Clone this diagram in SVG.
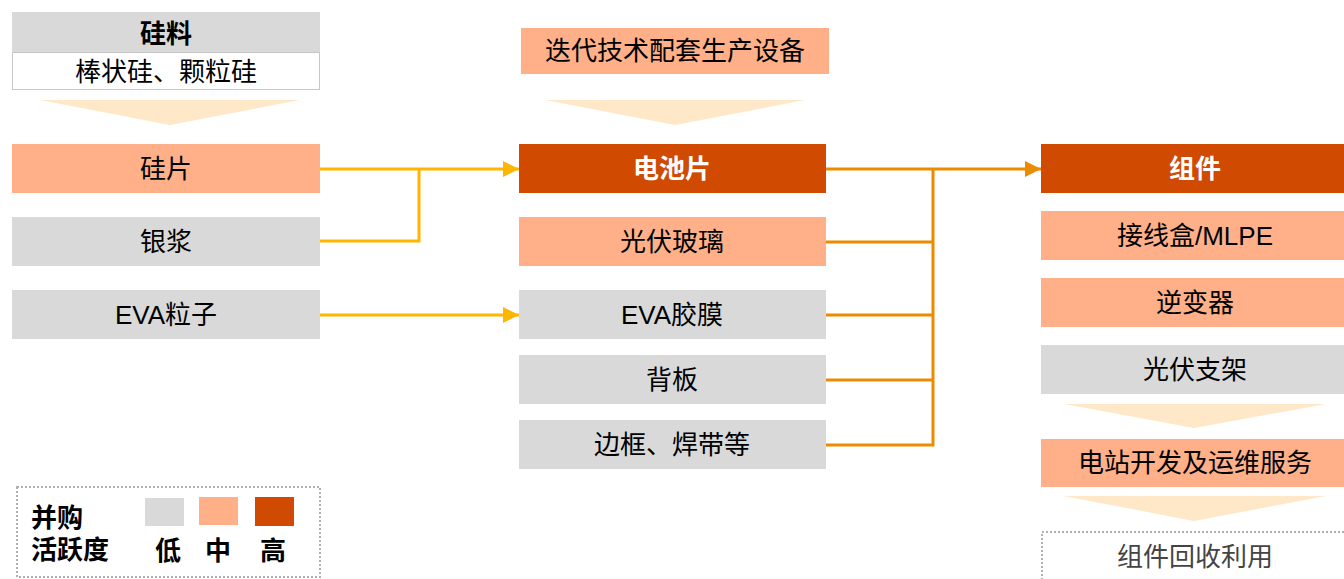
<svg xmlns="http://www.w3.org/2000/svg" width="1344" height="579" viewBox="0 0 1344 579">
<style>
text{font-family:"Liberation Sans","Noto Sans CJK SC",sans-serif;font-size:26px;fill:#000;text-anchor:middle;dominant-baseline:central}
.b{font-weight:bold}
.w{fill:#fff;font-weight:bold}
.low{fill:#d9d9d9}.mid{fill:#ffb088}.high{fill:#d04a02}
.tri{fill:#ffe8c8}
.y{stroke:#ffb600;stroke-width:3;fill:none}
.o{stroke:#eb8c00;stroke-width:3;fill:none}
</style>
<defs>
<marker id="ay" markerUnits="userSpaceOnUse" markerWidth="16" markerHeight="16" refX="16" refY="8" orient="auto"><path d="M0,0 L16,8 L0,16Z" fill="#ffb600"/></marker>
<marker id="ao" markerUnits="userSpaceOnUse" markerWidth="16" markerHeight="16" refX="16" refY="8" orient="auto"><path d="M0,0 L16,8 L0,16Z" fill="#eb8c00"/></marker>
</defs>
<g id="silicon-material"><rect x="12" y="12" width="308" height="40" class="low"/><text x="166" y="34" class="b">硅料</text><rect x="12.5" y="52.5" width="307" height="37" fill="#fff" stroke="#c8c8c8"/><text x="166" y="72">棒状硅、颗粒硅</text></g>
<polygon class="tri" points="40,100 300,100 170,125"/>
<g id="wafer"><rect x="12" y="144" width="308" height="49" class="mid"/><text x="166" y="169">硅片</text></g>
<g id="silver-paste"><rect x="12" y="217" width="308" height="49" class="low"/><text x="166" y="242">银浆</text></g>
<g id="eva-pellet"><rect x="12" y="290" width="308" height="49" class="low"/><text x="166" y="315">EVA粒子</text></g>
<g id="equipment"><rect x="521" y="28" width="308" height="46" class="mid"/><text x="675" y="51">迭代技术配套生产设备</text></g>
<polygon class="tri" points="545,100 805,100 675,125"/>
<g id="cell"><rect x="519" y="144" width="307" height="49" class="high"/><text x="672" y="169" class="w">电池片</text></g>
<g id="glass"><rect x="519" y="217" width="307" height="49" class="mid"/><text x="672" y="242">光伏玻璃</text></g>
<g id="eva-film"><rect x="519" y="290" width="307" height="49" class="low"/><text x="672" y="315">EVA胶膜</text></g>
<g id="backsheet"><rect x="519" y="355" width="307" height="49" class="low"/><text x="672" y="380">背板</text></g>
<g id="frame"><rect x="519" y="420" width="307" height="49" class="low"/><text x="672" y="445">边框、焊带等</text></g>
<g id="module"><rect x="1041" y="144" width="303" height="49" class="high"/><text x="1195" y="169" class="w">组件</text></g>
<g id="junction-box"><rect x="1041" y="211" width="303" height="49" class="mid"/><text x="1195" y="236">接线盒/MLPE</text></g>
<g id="inverter"><rect x="1041" y="278" width="303" height="49" class="mid"/><text x="1195" y="303">逆变器</text></g>
<g id="bracket"><rect x="1041" y="345" width="303" height="49" class="low"/><text x="1195" y="370">光伏支架</text></g>
<polygon class="tri" points="1064,404 1326,404 1194,428"/>
<g id="power-station"><rect x="1041" y="439" width="303" height="48" class="mid"/><text x="1195" y="463">电站开发及运维服务</text></g>
<polygon class="tri" points="1064,496 1326,496 1194,521"/>
<g id="recycling"><rect x="1042" y="532" width="310" height="60" fill="#fff" stroke="#b0b0b0" stroke-width="2" stroke-dasharray="2,2"/><text x="1195" y="557" style="fill:#444">组件回收利用</text></g>
<g id="connectors">
<path class="y" d="M320,169 H519" marker-end="url(#ay)"/>
<path class="y" d="M320,241 H419 V169"/>
<path class="y" d="M320,315 H519" marker-end="url(#ay)"/>
<path class="o" d="M826,169 H1041" marker-end="url(#ao)"/>
<path class="o" d="M826,242 H933 M826,315 H933 M826,380 H933 M826,445 H933 V169"/>
</g>
<g id="legend">
<rect x="17" y="487" width="303" height="90" fill="none" stroke="#b0b0b0" stroke-width="2" stroke-dasharray="2,2"/>
<text x="31" y="518" class="b" style="text-anchor:start">并购</text>
<text x="31" y="550" class="b" style="text-anchor:start">活跃度</text>
<rect x="145" y="498" width="39" height="28" class="low"/>
<rect x="199" y="497" width="39" height="28" class="mid"/>
<rect x="255" y="497" width="39" height="29" class="high"/>
<text x="168" y="551" class="b">低</text>
<text x="218" y="551" class="b">中</text>
<text x="273" y="551" class="b">高</text>
</g>
</svg>
